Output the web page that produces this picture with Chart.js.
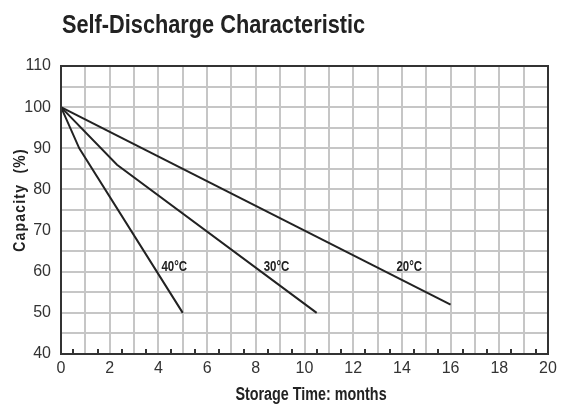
<!DOCTYPE html>
<html>
<head>
<meta charset="utf-8">
<script src="https://cdn.jsdelivr.net/npm/chart.js@4.4.1/dist/chart.umd.min.js"></script>
<style>
  html, body { margin: 0; padding: 0; background: #fff; }
  #wrap { width: 565px; height: 409px; }
</style>
</head>
<body>
<div id="wrap"><canvas id="chart" width="565" height="409"></canvas></div>
<script>
// Self-discharge curves
const months20 = [0, 16];
const capacity20 = [100, 52];
const months30 = [0, 2.3, 10.5];
const capacity30 = [100, 86, 50];
const months40 = [0, 0.75, 5];
const capacity40 = [100, 90, 50];

const seriesNames = ['20°C', '30°C', '40°C'];
// where each curve's name sits, in chart units
const nameMonths = [14.3, 8.85, 4.65];
const nameCapacity = [61, 61, 61];

const xTicks = [0, 2, 4, 6, 8, 10, 12, 14, 16, 18, 20];
const yTicks = [40, 50, 60, 70, 80, 90, 100, 110];

const SANS = '"Liberation Sans", Arial, sans-serif';
const NARROW = 0.82; // squeeze Liberation Sans to look like Arial Narrow
const INK = '#222';
const AXIS = '#333';

function points(xs, ys) {
  return xs.map((x, i) => ({ x: x, y: ys[i] }));
}

// draw text squeezed horizontally around (x, y)
function narrowText(ctx, text, x, y, font, align) {
  ctx.save();
  ctx.font = font;
  ctx.textAlign = align;
  ctx.translate(x, y);
  ctx.scale(NARROW, 1);
  ctx.fillText(text, 0, 0);
  ctx.restore();
}

// titles, frame, small half-month ticks and curve names
const decor = {
  id: 'decor',
  afterDatasetsDraw(chart) {
    const { ctx, chartArea: a, scales } = chart;
    const xs = scales.x, ys = scales.y;
    ctx.save();

    // half-month ticks pointing up from the bottom axis
    ctx.strokeStyle = AXIS;
    ctx.lineWidth = 2;
    ctx.beginPath();
    for (let m = 0.5; m < 20; m += 1) {
      const px = Math.round(xs.getPixelForValue(m));
      ctx.moveTo(px, a.bottom);
      ctx.lineTo(px, a.bottom - 5);
    }
    ctx.stroke();

    // frame
    ctx.strokeRect(a.left, a.top, a.right - a.left, a.bottom - a.top);

    ctx.fillStyle = INK;
    ctx.textBaseline = 'middle';

    // curve names
    seriesNames.forEach((n, i) => {
      narrowText(ctx, n, xs.getPixelForValue(nameMonths[i]), ys.getPixelForValue(nameCapacity[i]),
        'bold 14px ' + SANS, 'center');
    });

    // chart title
    ctx.textBaseline = 'alphabetic';
    narrowText(ctx, 'Self-Discharge Characteristic', 62, 33, 'bold 26.5px ' + SANS, 'left');

    // axis titles
    ctx.textBaseline = 'middle';
    narrowText(ctx, 'Storage Time: months', 311, 395, 'bold 17.5px ' + SANS, 'center');

    ctx.translate(20, 200);
    ctx.rotate(-Math.PI / 2);
    ctx.letterSpacing = '1.5px';
    narrowText(ctx, 'Capacity  (%)', 0, 0, 'bold 17px ' + SANS, 'center');
    ctx.restore();
  }
};

const lineStyle = {
  borderColor: INK,
  borderWidth: 2,
  pointRadius: 0,
  fill: false,
  tension: 0
};

new Chart(document.getElementById('chart'), {
  type: 'line',
  data: {
    datasets: [
      Object.assign({ label: seriesNames[0], data: points(months20, capacity20) }, lineStyle),
      Object.assign({ label: seriesNames[1], data: points(months30, capacity30) }, lineStyle),
      Object.assign({ label: seriesNames[2], data: points(months40, capacity40) }, lineStyle)
    ]
  },
  options: {
    responsive: false,
    animation: false,
    layout: { padding: { top: 66, right: 17, left: 0, bottom: 0 } },
    plugins: {
      legend: { display: false },
      tooltip: { enabled: false },
      title: { display: false }
    },
    scales: {
      x: {
        type: 'linear',
        min: 0,
        max: 20,
        afterFit(scale) { scale.height = 55; },
        grid: { color: '#c6c6c6', lineWidth: 2, drawTicks: false },
        border: { display: false },
        ticks: {
          stepSize: 1,
          padding: 5,
          color: AXIS,
          font: { family: SANS, size: 16 },
          maxRotation: 0,
          autoSkip: false,
          callback: v => xTicks.includes(v) ? String(v) : ''
        }
      },
      y: {
        min: 40,
        max: 110,
        afterFit(scale) { scale.width = 61; },
        grid: { color: '#c6c6c6', lineWidth: 2, drawTicks: false },
        border: { display: false },
        ticks: {
          stepSize: 5,
          padding: 10,
          color: AXIS,
          font: { family: SANS, size: 16 },
          autoSkip: false,
          callback: v => yTicks.includes(v) ? String(v) : ''
        }
      }
    }
  },
  plugins: [decor]
});
</script>
</body>
</html>
